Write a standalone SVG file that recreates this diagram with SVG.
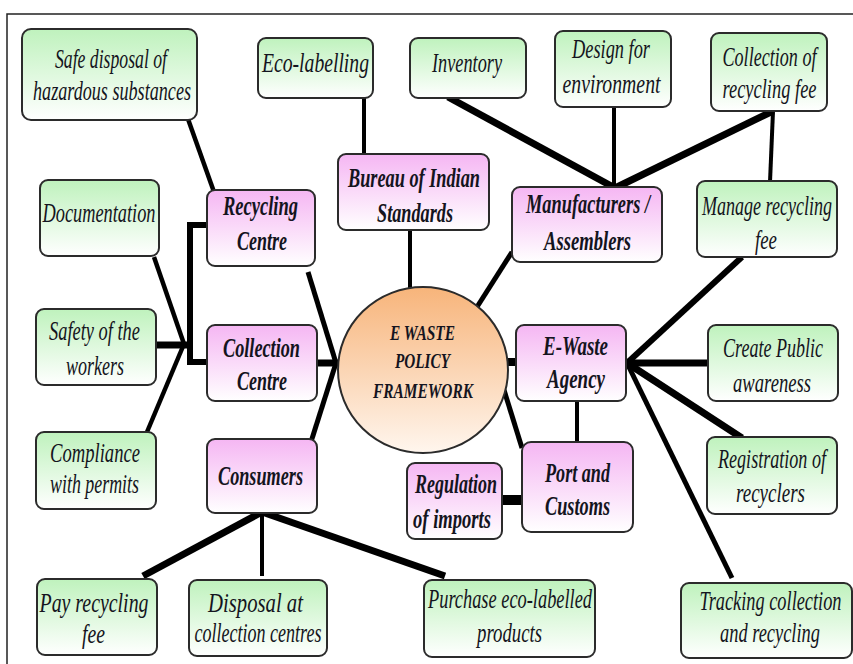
<svg xmlns="http://www.w3.org/2000/svg" width="853" height="664" viewBox="0 0 853 664">
<defs>
<linearGradient id="gG" x1="0" y1="0" x2="0" y2="1"><stop offset="0" stop-color="#bff2bd"/><stop offset="1" stop-color="#ffffff"/></linearGradient>
<linearGradient id="gP" x1="0" y1="0" x2="0" y2="1"><stop offset="0" stop-color="#f5b6f3"/><stop offset="1" stop-color="#ffffff"/></linearGradient>
<linearGradient id="gO" x1="0" y1="0" x2="0" y2="1"><stop offset="0" stop-color="#f7b47a"/><stop offset="1" stop-color="#fff6ee"/></linearGradient>
<style>
.g{fill:url(#gG);stroke:#2b2b2b;stroke-width:2}
.p{fill:url(#gP);stroke:#2b2b2b;stroke-width:2}
text{font-family:"Liberation Serif","Times New Roman",serif;font-style:italic;font-size:27px;fill:#141420;text-anchor:middle}
.b{font-weight:bold}
.c{font-size:22px;font-weight:bold}
.ln{stroke:#000;fill:none;stroke-linecap:butt}
</style>
</defs>
<rect width="853" height="664" fill="#fff"/>
<path d="M7 664V14H853" fill="none" stroke="#222" stroke-width="1.5"/>
<g id="connectors" class="ln">
<line x1="188" y1="119" x2="214" y2="192" stroke-width="4.5"/>
<line x1="364" y1="97" x2="364" y2="155" stroke-width="4"/>
<line x1="448" y1="97" x2="615" y2="188" stroke-width="7"/>
<line x1="614" y1="107" x2="614" y2="188" stroke-width="4"/>
<line x1="773" y1="111" x2="615" y2="188" stroke-width="7"/>
<line x1="773" y1="111" x2="770" y2="182" stroke-width="4"/>
<line x1="410" y1="230" x2="410" y2="288" stroke-width="4"/>
<line x1="512" y1="252" x2="477" y2="307" stroke-width="5"/>
<line x1="308" y1="272" x2="336" y2="363" stroke-width="5"/>
<line x1="317" y1="363" x2="339" y2="363" stroke-width="7"/>
<line x1="310" y1="445" x2="336" y2="363" stroke-width="5"/>
<polyline points="207,225 190,225 190,362 207,362" stroke-width="6"/>
<line x1="154" y1="257" x2="184" y2="344" stroke-width="4.5"/>
<line x1="156" y1="345" x2="188" y2="345" stroke-width="7"/>
<line x1="147" y1="432" x2="184" y2="344" stroke-width="4.5"/>
<line x1="507" y1="362" x2="517" y2="362" stroke-width="8"/>
<line x1="504" y1="390" x2="522" y2="448" stroke-width="5"/>
<line x1="577" y1="401" x2="577" y2="442" stroke-width="4"/>
<line x1="501" y1="500" x2="523" y2="500" stroke-width="10"/>
<line x1="627" y1="363" x2="742" y2="257" stroke-width="6"/>
<line x1="627" y1="363" x2="708" y2="363" stroke-width="7"/>
<line x1="627" y1="363" x2="742" y2="438" stroke-width="7"/>
<line x1="627" y1="363" x2="732" y2="578" stroke-width="5"/>
<line x1="262" y1="512" x2="143" y2="576" stroke-width="7"/>
<line x1="262" y1="512" x2="262" y2="576" stroke-width="4"/>
<line x1="262" y1="512" x2="445" y2="576" stroke-width="7"/>
</g>
<g id="safe-disposal"><rect class="g" x="22" y="29" width="175" height="91" rx="9"/><text x="111" y="68" textLength="112" lengthAdjust="spacingAndGlyphs">Safe disposal of</text><text x="112" y="100" textLength="158" lengthAdjust="spacingAndGlyphs">hazardous substances</text></g>
<g id="eco-labelling"><rect class="g" x="258" y="38" width="115" height="60" rx="8"/><text x="315.5" y="72" textLength="107" lengthAdjust="spacingAndGlyphs">Eco-labelling</text></g>
<g id="inventory"><rect class="g" x="410" y="38" width="116" height="60" rx="8"/><text x="467" y="72" textLength="70" lengthAdjust="spacingAndGlyphs">Inventory</text></g>
<g id="design-env"><rect class="g" x="555" y="31" width="116" height="76" rx="8"/><text x="611" y="58" textLength="78" lengthAdjust="spacingAndGlyphs">Design for</text><text x="611.5" y="93" textLength="98" lengthAdjust="spacingAndGlyphs">environment</text></g>
<g id="collection-fee"><rect class="g" x="711" y="33" width="116" height="78" rx="8"/><text x="769.5" y="66" textLength="94" lengthAdjust="spacingAndGlyphs">Collection of</text><text x="769.5" y="98" textLength="94" lengthAdjust="spacingAndGlyphs">recycling fee</text></g>
<g id="manage-fee"><rect class="g" x="697" y="181" width="140" height="76" rx="8"/><text x="767" y="215" textLength="130" lengthAdjust="spacingAndGlyphs">Manage recycling</text><text x="766" y="249" textLength="22" lengthAdjust="spacingAndGlyphs">fee</text></g>
<g id="documentation"><rect class="g" x="40" y="180" width="119" height="76" rx="8"/><text x="99" y="222" textLength="113" lengthAdjust="spacingAndGlyphs">Documentation</text></g>
<g id="safety"><rect class="g" x="36" y="309" width="120" height="76" rx="8"/><text x="94.5" y="340" textLength="91" lengthAdjust="spacingAndGlyphs">Safety of the</text><text x="95" y="375" textLength="58" lengthAdjust="spacingAndGlyphs">workers</text></g>
<g id="compliance"><rect class="g" x="36" y="432" width="120" height="77" rx="8"/><text x="95" y="462" textLength="90" lengthAdjust="spacingAndGlyphs">Compliance</text><text x="94.5" y="493" textLength="89" lengthAdjust="spacingAndGlyphs">with permits</text></g>
<g id="public-awareness"><rect class="g" x="708" y="325" width="130" height="76" rx="8"/><text x="773" y="357" textLength="100" lengthAdjust="spacingAndGlyphs">Create Public</text><text x="772" y="392" textLength="78" lengthAdjust="spacingAndGlyphs">awareness</text></g>
<g id="registration"><rect class="g" x="707" y="437" width="130" height="77" rx="8"/><text x="772" y="468" textLength="108" lengthAdjust="spacingAndGlyphs">Registration of</text><text x="770.5" y="502" textLength="69" lengthAdjust="spacingAndGlyphs">recyclers</text></g>
<g id="tracking"><rect class="g" x="681" y="583" width="171" height="75" rx="8"/><text x="770.5" y="610" textLength="142" lengthAdjust="spacingAndGlyphs">Tracking collection</text><text x="770" y="642" textLength="100" lengthAdjust="spacingAndGlyphs">and recycling</text></g>
<g id="pay-fee"><rect class="g" x="37" y="579" width="120" height="76" rx="8"/><text x="94" y="612" textLength="109" lengthAdjust="spacingAndGlyphs">Pay recycling</text><text x="93.5" y="643" textLength="23" lengthAdjust="spacingAndGlyphs">fee</text></g>
<g id="disposal"><rect class="g" x="189" y="580" width="138" height="76" rx="8"/><text x="255.5" y="612" textLength="95" lengthAdjust="spacingAndGlyphs">Disposal at</text><text x="258" y="642" textLength="127" lengthAdjust="spacingAndGlyphs">collection centres</text></g>
<g id="purchase"><rect class="g" x="424" y="580" width="171" height="77" rx="8"/><text x="510" y="608" textLength="164" lengthAdjust="spacingAndGlyphs">Purchase eco-labelled</text><text x="509.5" y="642" textLength="65" lengthAdjust="spacingAndGlyphs">products</text></g>
<g id="recycling-centre"><rect class="p" x="207" y="190" width="108" height="76" rx="8"/><text class="b" x="260.5" y="215" textLength="75" lengthAdjust="spacingAndGlyphs">Recycling</text><text class="b" x="262" y="250" textLength="50" lengthAdjust="spacingAndGlyphs">Centre</text></g>
<g id="bureau"><rect class="p" x="338" y="154" width="151" height="76" rx="8"/><text class="b" x="414" y="187" textLength="132" lengthAdjust="spacingAndGlyphs">Bureau of Indian</text><text class="b" x="415" y="222" textLength="76" lengthAdjust="spacingAndGlyphs">Standards</text></g>
<g id="manufacturers"><rect class="p" x="512" y="187" width="150" height="75" rx="8"/><text class="b" x="588" y="213" textLength="124" lengthAdjust="spacingAndGlyphs">Manufacturers /</text><text class="b" x="587.5" y="250" textLength="87" lengthAdjust="spacingAndGlyphs">Assemblers</text></g>
<g id="collection-centre"><rect class="p" x="207" y="325" width="110" height="76" rx="8"/><text class="b" x="261.5" y="357" textLength="77" lengthAdjust="spacingAndGlyphs">Collection</text><text class="b" x="262" y="390" textLength="50" lengthAdjust="spacingAndGlyphs">Centre</text></g>
<g id="consumers"><rect class="p" x="207" y="439" width="110" height="74" rx="8"/><text class="b" x="260.5" y="485" textLength="85" lengthAdjust="spacingAndGlyphs">Consumers</text></g>
<g id="ewaste-agency"><rect class="p" x="516" y="325" width="110" height="76" rx="8"/><text class="b" x="575.5" y="355" textLength="65" lengthAdjust="spacingAndGlyphs">E-Waste</text><text class="b" x="576" y="388" textLength="58" lengthAdjust="spacingAndGlyphs">Agency</text></g>
<g id="port-customs"><rect class="p" x="522" y="442" width="111" height="90" rx="9"/><text class="b" x="577.5" y="482" textLength="65" lengthAdjust="spacingAndGlyphs">Port and</text><text class="b" x="577.5" y="515" textLength="65" lengthAdjust="spacingAndGlyphs">Customs</text></g>
<g id="regulation"><rect class="p" x="407" y="463" width="95" height="76" rx="8"/><text class="b" x="456" y="493" textLength="82" lengthAdjust="spacingAndGlyphs">Regulation</text><text class="b" x="452" y="528" textLength="78" lengthAdjust="spacingAndGlyphs">of imports</text></g>
<g id="framework"><ellipse cx="423" cy="370" rx="85" ry="83" fill="url(#gO)" stroke="#2b2b2b" stroke-width="2"/><text class="c" x="422.5" y="340" textLength="65" lengthAdjust="spacingAndGlyphs">E WASTE</text><text class="c" x="422.5" y="368" textLength="55" lengthAdjust="spacingAndGlyphs">POLICY</text><text class="c" x="423" y="398" textLength="100" lengthAdjust="spacingAndGlyphs">FRAMEWORK</text></g>
</svg>
